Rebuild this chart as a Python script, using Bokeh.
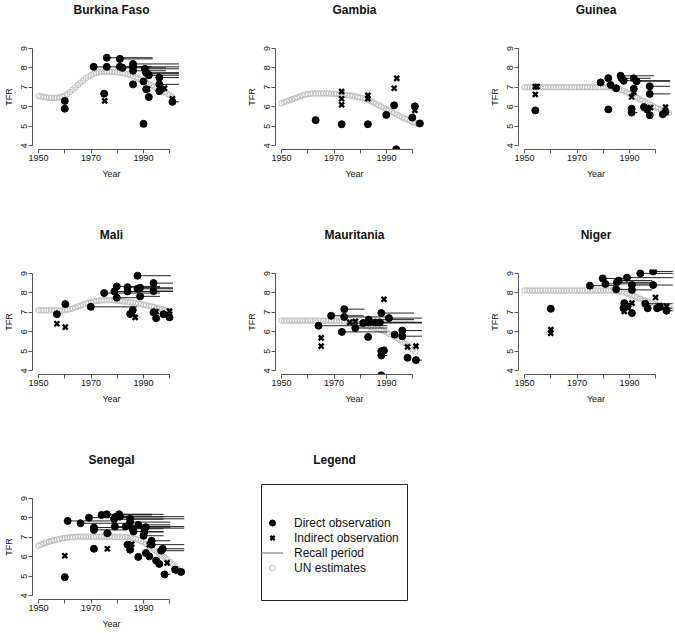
from bokeh.plotting import figure
from bokeh.layouts import column, row
from bokeh.models import Range1d, FixedTicker, Title, Legend, LegendItem, ColumnDataSource
from bokeh.embed import file_html
from bokeh.resources import INLINE

# ---------------- data ----------------
un_start_year = 1950
x_ticks = [1950, 1960, 1970, 1980, 1990, 2000]
x_tick_labels = ["1950", "", "1970", "", "1990", ""]
y_ticks = [4, 5, 6, 7, 8, 9]
legend_labels = ["Direct observation", "Indirect observation", "Recall period", "UN estimates"]

# Burkina Faso
bf_un = [6.55, 6.53, 6.50, 6.48, 6.46, 6.45, 6.45, 6.46, 6.48, 6.52,
         6.58, 6.66, 6.76, 6.88, 7.00, 7.12, 7.24, 7.35, 7.46, 7.55,
         7.63, 7.69, 7.74, 7.77, 7.79, 7.80, 7.80, 7.80, 7.79, 7.78,
         7.77, 7.75, 7.73, 7.70, 7.67, 7.63, 7.58, 7.52, 7.45, 7.38,
         7.31, 7.24, 7.17, 7.10, 7.03, 6.96, 6.89, 6.82, 6.75, 6.67,
         6.59, 6.51]
bf_dir_year = [1960.0, 1960.0, 1971.0, 1976.0, 1976.0, 1981.0, 1981.0, 1982.0, 1986.0, 1986.0,
               1986.0, 1986.0, 1975.0, 1990.0, 1990.5, 1991.0, 1991.5, 1992.0, 1991.0, 1992.0,
               1990.0, 1996.0, 1996.0, 1996.0, 2001.0]
bf_dir_tfr = [6.30, 5.90, 8.05, 8.05, 8.52, 8.46, 8.06, 8.00, 8.20, 8.05,
              7.85, 7.15, 6.67, 7.30, 7.95, 7.75, 7.70, 7.62, 6.90, 6.50,
              5.12, 7.50, 7.15, 6.80, 6.25]
bf_dir_end = [None, None, 1976.0, 1986.0, 1993.5, 1993.5, 1993.0, 1998.5, 2003.5, 2003.5,
              1998.5, None, None, None, 2003.5, 2003.5, 2003.5, 2003.5, None, None,
              None, 2003.5, 2003.5, None, 2003.5]
bf_ind_year = [1975.2, 1990.5, 1991.5, 1986.0, 1998.0, 1997.0, 2001.0]
bf_ind_tfr = [6.30, 7.85, 6.92, 7.15, 6.95, 6.90, 6.40]

# Gambia
gm_un = [6.18, 6.23, 6.28, 6.33, 6.38, 6.43, 6.48, 6.53, 6.58, 6.62,
         6.65, 6.67, 6.68, 6.68, 6.68, 6.68, 6.68, 6.68, 6.68, 6.67,
         6.67, 6.66, 6.65, 6.64, 6.62, 6.60, 6.58, 6.56, 6.53, 6.50,
         6.47, 6.44, 6.40, 6.35, 6.29, 6.22, 6.15, 6.08, 6.01, 5.94,
         5.87, 5.80, 5.73, 5.66, 5.59, 5.52, 5.45, 5.39, 5.33, 5.27,
         5.21, 5.16, 5.12]
gm_dir_year = [1963.0, 1972.9, 1982.9, 1989.9, 1992.9, 1993.7, 1999.8, 2000.8, 2002.7]
gm_dir_tfr = [5.31, 5.10, 5.10, 5.58, 6.07, 3.81, 5.44, 6.02, 5.14]
gm_dir_end = [None, None, None, None, None, None, None, None, None]
gm_ind_year = [1972.9, 1972.9, 1972.9, 1982.9, 1982.9, 1992.9, 1993.9, 2000.8]
gm_ind_tfr = [6.78, 6.41, 6.10, 6.58, 6.42, 6.95, 7.46, 5.81]

# Guinea
gn_un = [7.00, 7.00, 7.00, 7.00, 7.00, 7.00, 7.00, 7.00, 7.00, 7.00,
         7.00, 7.00, 7.00, 7.00, 7.00, 7.00, 7.00, 7.00, 7.00, 7.00,
         7.00, 7.00, 7.00, 7.00, 7.00, 7.00, 7.00, 7.00, 7.00, 7.00,
         7.00, 7.00, 7.00, 6.99, 6.97, 6.94, 6.90, 6.85, 6.79, 6.73,
         6.66, 6.59, 6.52, 6.45, 6.38, 6.31, 6.24, 6.17, 6.10, 6.03,
         5.96, 5.90, 5.84, 5.78, 5.73, 5.68]
gn_dir_year = [1954.1, 1979.0, 1981.9, 1981.9, 1982.8, 1984.9, 1986.6, 1987.0, 1987.8, 1991.6,
               1992.7, 1991.6, 1990.8, 1990.8, 1995.5, 1996.7, 1997.7, 1997.7, 1997.7, 2002.7,
               2003.7]
gn_dir_tfr = [5.81, 7.25, 7.47, 5.86, 7.12, 6.95, 7.59, 7.46, 7.34, 7.46,
              7.31, 6.92, 5.90, 5.70, 5.98, 5.86, 7.05, 6.66, 5.56, 5.61,
              5.73]
gn_dir_end = [None, None, None, None, None, None, 1999.3, 1992.0, 2005.5, 1998.0,
              2005.5, 1993.0, None, 1993.0, None, 1998.5, 2005.5, 2005.5, None, None,
              None]
gn_ind_year = [1954.1, 1954.1, 1954.8, 1991.6, 1990.8, 1998.0, 2003.7]
gn_ind_tfr = [6.63, 7.03, 7.03, 6.75, 6.50, 5.95, 5.98]

# Mali
ml_un = [7.10, 7.10, 7.10, 7.10, 7.10, 7.10, 7.10, 7.10, 7.10, 7.10,
         7.11, 7.13, 7.16, 7.20, 7.25, 7.30, 7.35, 7.40, 7.45, 7.49,
         7.53, 7.56, 7.58, 7.60, 7.61, 7.62, 7.62, 7.62, 7.62, 7.61,
         7.60, 7.59, 7.57, 7.55, 7.53, 7.51, 7.49, 7.47, 7.45, 7.42,
         7.39, 7.36, 7.33, 7.30, 7.27, 7.23, 7.19, 7.15, 7.11, 7.07,
         7.03]
ml_dir_year = [1957.0, 1960.2, 1969.9, 1975.0, 1978.9, 1979.8, 1979.8, 1983.9, 1983.9, 1985.9,
               1984.9, 1987.7, 1987.7, 1988.7, 1988.7, 1993.8, 1993.8, 1993.8, 1994.8, 1997.6,
               1999.9]
ml_dir_tfr = [6.90, 7.42, 7.28, 7.99, 8.07, 8.33, 7.75, 8.29, 8.07, 7.11,
              6.91, 8.88, 8.21, 8.26, 7.82, 8.50, 8.09, 7.00, 6.69, 6.90,
              6.74]
ml_dir_end = [None, None, 1987.5, 1996.3, 1996.3, 1996.3, 1987.5, 1996.3, 2001.2, None,
              None, 2000.4, 2001.2, 2001.2, 1996.3, 2001.2, 2001.2, None, None, None,
              None]
ml_ind_year = [1957.0, 1960.2, 1986.8, 1985.9, 1994.8, 1999.9]
ml_ind_tfr = [6.41, 6.24, 6.74, 6.95, 7.03, 7.06]

# Mauritania
mr_un = [6.57, 6.57, 6.57, 6.57, 6.57, 6.57, 6.57, 6.57, 6.57, 6.57,
         6.57, 6.57, 6.57, 6.57, 6.57, 6.57, 6.56, 6.56, 6.56, 6.56,
         6.56, 6.55, 6.55, 6.54, 6.54, 6.53, 6.51, 6.48, 6.45, 6.41,
         6.37, 6.34, 6.31, 6.28, 6.25, 6.22, 6.18, 6.13, 6.08, 6.02,
         5.96, 5.89, 5.82, 5.74, 5.66, 5.57, 5.48, 5.39, 5.29, 5.19,
         5.08, 4.97]
mr_dir_year = [1964.1, 1968.9, 1973.9, 1973.9, 1973.0, 1978.1, 1981.1, 1983.2, 1983.2, 1983.0,
               1985.8, 1987.5, 1988.0, 1990.9, 1988.0, 1989.0, 1988.0, 1988.0, 1996.0, 1996.0,
               1993.1, 1998.0, 2001.2]
mr_dir_tfr = [6.31, 6.82, 7.16, 6.76, 5.99, 6.19, 6.45, 6.62, 6.48, 5.73,
              6.48, 6.48, 6.96, 6.70, 5.00, 5.04, 4.78, 3.76, 6.06, 5.77,
              5.85, 4.66, 4.54]
mr_dir_end = [1990.3, 1981.3, 1981.6, 1990.3, 1990.3, 1990.3, 2003.5, 2000.5, 2003.5, None,
              2003.5, 2000.5, 2000.5, 2003.5, 1990.3, None, 1990.3, None, 2003.5, 2003.5,
              None, None, 2003.5]
mr_ind_year = [1965.1, 1965.1, 1976.0, 1978.1, 1986.4, 1989.0, 1998.0, 2001.2]
mr_ind_tfr = [5.68, 5.26, 6.48, 6.53, 6.48, 7.67, 5.22, 5.26]

# Niger
ne_un = [8.12, 8.12, 8.12, 8.12, 8.12, 8.12, 8.12, 8.12, 8.12, 8.12,
         8.12, 8.12, 8.12, 8.12, 8.12, 8.12, 8.12, 8.12, 8.12, 8.12,
         8.12, 8.12, 8.12, 8.12, 8.12, 8.12, 8.12, 8.12, 8.12, 8.12,
         8.12, 8.12, 8.12, 8.12, 8.12, 8.11, 8.09, 8.06, 8.02, 7.97,
         7.92, 7.87, 7.82, 7.76, 7.70, 7.65, 7.60, 7.55, 7.50, 7.46,
         7.42, 7.38, 7.34, 7.31, 7.28, 7.25]
ne_dir_year = [1960.0, 1974.9, 1979.8, 1980.8, 1984.9, 1985.2, 1985.9, 1989.0, 1990.9, 1990.9,
               1994.1, 1999.0, 1999.0, 1988.0, 1987.7, 1989.3, 1990.9, 1996.0, 1996.9, 2000.5,
               2001.5, 2004.1]
ne_dir_tfr = [7.18, 8.37, 8.74, 8.46, 8.18, 8.54, 8.63, 8.78, 8.40, 8.15,
              9.00, 9.10, 8.40, 7.47, 7.21, 7.30, 6.96, 7.44, 7.21, 7.21,
              7.27, 7.08]
ne_dir_end = [None, 1985.3, 1990.4, 1998.6, 1990.4, 1998.6, 1998.6, 2006.5, 1998.6, 1998.6,
              2006.5, 2006.5, 2006.5, None, None, None, None, 2006.5, None, 2006.5,
              None, 2006.5]
ne_ind_year = [1960.0, 1960.0, 1988.0, 1988.0, 1990.9, 1999.9, 2001.5, 2004.1]
ne_ind_tfr = [6.11, 5.92, 7.21, 7.05, 7.47, 7.76, 7.33, 7.30]

# Senegal
sn_un = [6.57, 6.63, 6.68, 6.73, 6.77, 6.81, 6.85, 6.88, 6.91, 6.94,
         6.96, 6.98, 7.00, 7.01, 7.02, 7.03, 7.03, 7.03, 7.03, 7.03,
         7.03, 7.03, 7.03, 7.03, 7.03, 7.03, 7.03, 7.03, 7.03, 7.02,
         7.02, 7.02, 7.01, 7.01, 7.00, 6.99, 6.96, 6.92, 6.87, 6.81,
         6.74, 6.65, 6.55, 6.45, 6.35, 6.25, 6.15, 6.05, 5.95, 5.85,
         5.74, 5.62, 5.50, 5.37, 5.24]
sn_dir_year = [1960.0, 1961.1, 1966.0, 1969.2, 1971.1, 1971.1, 1971.1, 1974.0, 1976.0, 1976.2,
               1978.8, 1979.1, 1979.4, 1980.7, 1981.0, 1983.2, 1983.9, 1984.9, 1984.9, 1984.9,
               1985.8, 1986.2, 1988.0, 1988.0, 1990.3, 1990.3, 1990.9, 1990.0, 1990.9, 1992.2,
               1993.1, 1993.1, 1994.8, 1996.0, 1996.7, 1997.3, 1998.0, 2002.0, 2004.3]
sn_dir_tfr = [4.95, 7.84, 7.72, 8.01, 7.50, 7.38, 6.41, 8.15, 8.18, 7.21,
              7.93, 7.55, 8.05, 8.18, 8.06, 7.55, 6.62, 7.95, 7.78, 6.36,
              7.44, 7.30, 7.64, 5.99, 7.47, 7.27, 7.52, 7.08, 6.19, 6.02,
              6.82, 6.62, 5.80, 5.63, 6.31, 6.41, 5.09, 5.34, 5.22]
sn_dir_end = [None, 1977.3, 1983.0, 1985.0, 1983.0, 1983.0, None, 1993.2, 1997.6, 1978.0,
              1997.6, 2000.2, 1997.6, 1993.2, 2005.5, 2005.5, None, 2005.5, 2000.2, None,
              1997.6, 1997.6, 2000.2, None, 2005.5, 1997.6, 2000.2, 1997.6, None, None,
              2000.2, 2005.5, None, None, 2005.5, 2005.5, 2000.2, 2005.5, 2005.5]
sn_ind_year = [1960.0, 1976.2, 1985.5, 1992.2, 1999.0, 2003.0]
sn_ind_tfr = [6.05, 6.41, 6.65, 6.62, 5.68, 5.26]

# ---------------- layout / style ----------------
FONT = "Liberation Sans"
X_START = 1947.7
PX_PER_YEAR = 2.625
Y_MIN, Y_MAX = 3.8, 9.2
COL_W = [243, 243, 187]
ROW_H = [225, 225, 181]
BORDER_LEFT = 32
FRAME_W = 158
FRAME_TOP = 43
FRAME_H = 106
TITLE_SPACER = 25
AXIS_COLOR = "#555555"
TEXT_COLOR = "#111111"
UN_COLOR = "#BDBDBD"


def add_title(p, text, spacer):
    p.add_layout(Title(text=" ", text_font_size="1px", standoff=spacer), "above")
    p.title.text = text
    p.title.align = "center"
    p.title.text_font = FONT
    p.title.text_font_size = "12px"
    p.title.text_font_style = "bold"
    p.title.text_color = TEXT_COLOR
    p.title.standoff = 0


def make_panel(name, un, d_year, d_tfr, d_end, i_year, i_tfr, col, rw):
    width = COL_W[col]
    height = ROW_H[rw]
    frame_w = min(FRAME_W, width - BORDER_LEFT)
    right = width - BORDER_LEFT - frame_w
    bottom = height - FRAME_TOP - FRAME_H
    x_end = X_START + frame_w / PX_PER_YEAR
    p = figure(width=width, height=height, output_backend="svg", toolbar_location=None,
               tools="", x_range=Range1d(X_START, x_end), y_range=Range1d(Y_MIN, Y_MAX),
               min_border_left=BORDER_LEFT, min_border_right=right,
               min_border_top=FRAME_TOP, min_border_bottom=bottom,
               outline_line_color=None, background_fill_color="white",
               border_fill_color="white")
    add_title(p, name, TITLE_SPACER)
    p.xgrid.visible = False
    p.ygrid.visible = False

    xa = p.xaxis[0]
    xa.ticker = FixedTicker(ticks=x_ticks)
    xa.major_label_overrides = {t: l for t, l in zip(x_ticks, x_tick_labels)}
    xa.bounds = (x_ticks[0], x_ticks[-1])
    xa.axis_label = "Year"
    ya = p.yaxis[0]
    ya.ticker = FixedTicker(ticks=y_ticks)
    ya.bounds = (y_ticks[0], y_ticks[-1])
    ya.axis_label = "TFR"
    ya.major_label_orientation = "parallel"
    for ax in (xa, ya):
        ax.axis_line_color = AXIS_COLOR
        ax.major_tick_line_color = AXIS_COLOR
        ax.minor_tick_line_color = None
        ax.major_tick_out = 4
        ax.major_tick_in = 0
        ax.major_label_standoff = 1
        ax.axis_label_standoff = 5
        ax.major_label_text_font = FONT
        ax.major_label_text_font_size = "9px"
        ax.major_label_text_color = TEXT_COLOR
        ax.axis_label_text_font = FONT
        ax.axis_label_text_font_size = "9px"
        ax.axis_label_text_font_style = "normal"
        ax.axis_label_text_color = TEXT_COLOR

    un_years = [un_start_year + k for k in range(len(un))]
    p.scatter(un_years, un, marker="circle", size=5.5, fill_color=None,
              line_color=UN_COLOR, line_width=1)

    seg = ColumnDataSource(dict(
        x0=[y for y, e in zip(d_year, d_end) if e is not None],
        x1=[e for e in d_end if e is not None],
        y=[t for t, e in zip(d_tfr, d_end) if e is not None]))
    p.segment(x0="x0", y0="y", x1="x1", y1="y", source=seg, line_color="#222222", line_width=1)

    p.scatter(d_year, d_tfr, marker="circle", size=7, fill_color="black", line_color="black")
    p.scatter(i_year, i_tfr, marker="x", size=7, line_color="black", line_width=2.4)
    return p


panels = [
    ("Burkina Faso", bf_un, bf_dir_year, bf_dir_tfr, bf_dir_end, bf_ind_year, bf_ind_tfr),
    ("Gambia", gm_un, gm_dir_year, gm_dir_tfr, gm_dir_end, gm_ind_year, gm_ind_tfr),
    ("Guinea", gn_un, gn_dir_year, gn_dir_tfr, gn_dir_end, gn_ind_year, gn_ind_tfr),
    ("Mali", ml_un, ml_dir_year, ml_dir_tfr, ml_dir_end, ml_ind_year, ml_ind_tfr),
    ("Mauritania", mr_un, mr_dir_year, mr_dir_tfr, mr_dir_end, mr_ind_year, mr_ind_tfr),
    ("Niger", ne_un, ne_dir_year, ne_dir_tfr, ne_dir_end, ne_ind_year, ne_ind_tfr),
    ("Senegal", sn_un, sn_dir_year, sn_dir_tfr, sn_dir_end, sn_ind_year, sn_ind_tfr),
]

figs = []
for k, args in enumerate(panels):
    figs.append(make_panel(*args, col=k % 3, rw=k // 3))

# ---------------- legend panel (frame outline = legend box) ----------------
LG_LEFT, LG_W, LG_TOP, LG_H = 18, 146, 33, 117
lg = figure(width=COL_W[1], height=ROW_H[2], output_backend="svg", toolbar_location=None,
            tools="", x_range=Range1d(0, 1), y_range=Range1d(0, 1),
            min_border_left=LG_LEFT, min_border_right=COL_W[1] - LG_LEFT - LG_W,
            min_border_top=LG_TOP, min_border_bottom=ROW_H[2] - LG_TOP - LG_H,
            outline_line_color="#222222", outline_line_width=1,
            background_fill_color="white", border_fill_color="white")
add_title(lg, "Legend", 15)
lg.axis.visible = False
lg.xgrid.visible = False
lg.ygrid.visible = False
nan = [float("nan")]
r1 = lg.scatter(nan, nan, marker="circle", size=7, fill_color="black", line_color="black")
r2 = lg.scatter(nan, nan, marker="x", size=7, line_color="black", line_width=2.4)
r3 = lg.line(nan, nan, line_color="#999999", line_width=1.5)
r4 = lg.scatter(nan, nan, marker="circle", size=6, fill_color=None, line_color=UN_COLOR)
legend = Legend(items=[LegendItem(label=legend_labels[0], renderers=[r1]),
                       LegendItem(label=legend_labels[1], renderers=[r2]),
                       LegendItem(label=legend_labels[2], renderers=[r3]),
                       LegendItem(label=legend_labels[3], renderers=[r4])],
                location=(0, 25), padding=2, spacing=0, margin=0,
                label_height=15, glyph_height=15, glyph_width=22, label_standoff=11,
                label_text_font=FONT, label_text_font_size="12px", label_text_color=TEXT_COLOR,
                border_line_color=None, background_fill_alpha=0)
lg.add_layout(legend)

layout = column(row(figs[0], figs[1], figs[2]),
                row(figs[3], figs[4], figs[5]),
                row(figs[6], column(lg)))

open("out.html", "w").write(file_html(layout, INLINE))
